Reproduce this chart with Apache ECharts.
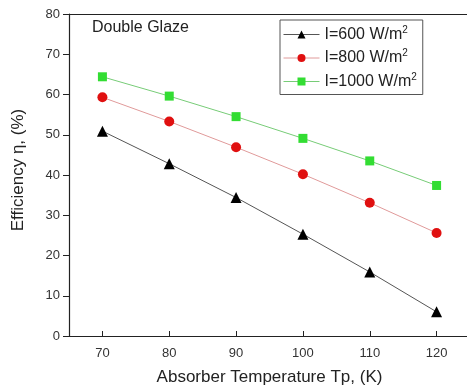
<!DOCTYPE html>
<html><head><meta charset="utf-8">
<script src="https://cdn.jsdelivr.net/npm/echarts@6/dist/echarts.min.js"></script>
<style>html,body{margin:0;padding:0;background:#fff}#c{width:467px;height:390px}</style>
</head><body><div id="c"></div>
<script>
const temps = [70, 80, 90, 100, 110, 120];
const eff600 = [50.9, 42.8, 34.4, 25.3, 15.9, 6.0];
const eff800 = [59.3, 53.3, 46.9, 40.2, 33.1, 25.6];
const eff1000 = [64.4, 59.6, 54.5, 49.1, 43.5, 37.4];
const xTicks = [70, 80, 90, 100, 110, 120];
const seriesNames = ['I=600 W/m2', 'I=800 W/m2', 'I=1000 W/m2'];
const lineColors = ['#555', '#e09a9a', '#77cc77'];
const markColors = ['#000', '#e01010', '#33dd33'];

const chart = echarts.init(document.getElementById('c'));
const font = 'Liberation Sans, Arial, sans-serif';
function pts(v){ return temps.map((t,i)=>[t, v[i]]); }
chart.setOption({
  animation:false,
  grid:{left:69, top:14, right:-3, bottom:54, outerBoundsMode:'none', containLabel:false},
  graphic:[{type:'text', left:92, top:20, style:{text:'Double Glaze', font:'16px '+font, fill:'#222'}}],
  legend:{
    top:20, left:280, orient:'vertical', itemGap:6, itemWidth:36, itemHeight:10,
    padding:[5,6,5,3], borderColor:'#555', borderWidth:1,
    data: seriesNames.map((n,i)=>({name:n, lineStyle:{color:lineColors[i], width:1}})),
    formatter:function(n){ return '{a|'+n.slice(0,-1)+'}{s|2}'; },
    textStyle:{rich:{a:{fontSize:16, fontFamily:font, color:'#222'}, s:{fontSize:10, fontFamily:font, color:'#222', padding:[0,0,9,0]}}}
  },
  xAxis:[{
    type:'value', min:65, max:125,
    name:'Absorber Temperature Tp, (K)', nameLocation:'middle', nameGap:33,
    nameTextStyle:{fontSize:17, fontFamily:font, color:'#222'},
    axisLine:{show:true, lineStyle:{color:'#222', width:1.2}},
    axisTick:{show:true, inside:true, length:5, customValues:xTicks, lineStyle:{color:'#222'}},
    axisLabel:{customValues:xTicks, fontSize:13, fontFamily:font, color:'#333', margin:11},
    splitLine:{show:false}
  },{
    type:'value', position:'top', min:65, max:125,
    axisLine:{show:true, lineStyle:{color:'#222', width:1.2}},
    axisTick:{show:false}, axisLabel:{show:false}, splitLine:{show:false}
  }],
  yAxis:{
    type:'value', min:0, max:80, interval:10,
    name:'Efficiency \u03b7, (%)', nameLocation:'middle', nameGap:42,
    nameTextStyle:{fontSize:17, fontFamily:font, color:'#222', padding:[0,0,0,10]},
    axisLine:{show:true, lineStyle:{color:'#222', width:1.2}},
    axisTick:{show:true, length:6, lineStyle:{color:'#222'}},
    axisLabel:{fontSize:13, fontFamily:font, color:'#333', margin:9},
    splitLine:{show:false}
  },
  series:[
    {name:seriesNames[0], type:'line', data:pts(eff600), symbol:'triangle', symbolSize:11,
     itemStyle:{color:markColors[0]}, lineStyle:{color:lineColors[0], width:1}},
    {name:seriesNames[1], type:'line', data:pts(eff800), symbol:'circle', symbolSize:10,
     itemStyle:{color:markColors[1]}, lineStyle:{color:lineColors[1], width:1}},
    {name:seriesNames[2], type:'line', data:pts(eff1000), symbol:'rect', symbolSize:9,
     itemStyle:{color:markColors[2]}, lineStyle:{color:lineColors[2], width:1}}
  ]
});
</script></body></html>
